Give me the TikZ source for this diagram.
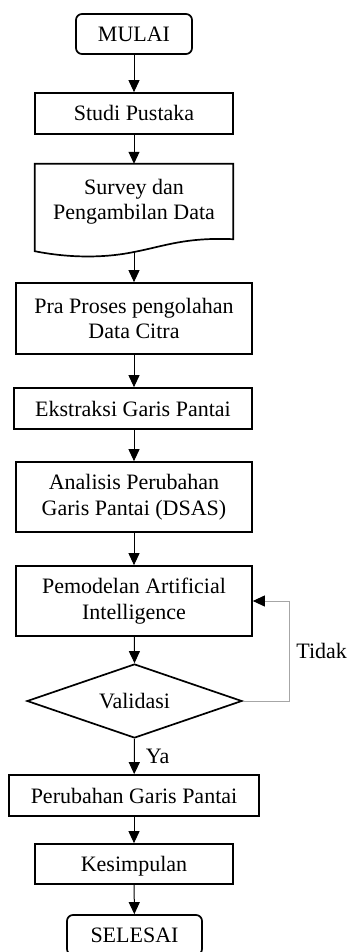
\documentclass[tikz,border=0pt]{standalone}
\usepackage{fontspec}
\setmainfont{Liberation Serif}
\usetikzlibrary{arrows.meta,shapes.geometric,calc}
\begin{document}
\begin{tikzpicture}[x=1pt,y=1pt]
                    \tikzstyle{every node}+=[inner sep=0pt, font=\fontsize{22}{25.5}\selectfont]
                    \tikzstyle{box}=[draw=black, line width=1.7pt, rectangle, align=center]
                    \tikzstyle{satu}=[box, text height=15pt, text depth=0pt]
                    \tikzstyle{ujung}=[satu, rounded corners=6pt]
                    \tikzstyle{panah}=[black, line width=1pt, -{Triangle[length=12pt,width=11pt]}]
                    \tikzstyle{balik}=[gray!70, line width=1pt, -{Triangle[length=12pt,width=11pt,color=black]}]
                    \useasboundingbox (0,0) rectangle (347,-952);
                    \node [ujung, minimum width=116pt, minimum height=40pt] (mulai) at (134,-34) {MULAI};
                    \node [satu, minimum width=198pt, minimum height=41pt] (studi) at (134,-113.5) {Studi Pustaka};
                    \node [align=center, minimum width=198pt, minimum height=75pt] (survey) at (134,-201.5) {Survey dan\\Pengambilan Data};
                    \coordinate (surveyout) at (134,-252);
                    \draw [black, line width=1.7pt] ($(survey.south west)+(0,-12)$) -- (survey.north west) -- (survey.north east) -- (survey.south east)
                        .. controls +(-48,2) and +(31,6) .. (surveyout)
                        .. controls +(-29,-6) and +(35,-7) .. ($(survey.south west)+(0,-12)$) -- cycle;
                    \node [box, minimum width=236pt, minimum height=71pt] (pra) at (134,-318.5) {Pra Proses pengolahan\\Data Citra};
                    \node [satu, minimum width=238pt, minimum height=41pt] (ekstraksi) at (133,-408.5) {Ekstraksi Garis Pantai};
                    \node [box, minimum width=236pt, minimum height=70pt] (analisis) at (134,-497) {Analisis Perubahan\\Garis Pantai (DSAS)};
                    \node [box, minimum width=236pt, minimum height=70pt] (model) at (134,-601) {Pemodelan Artificial\\Intelligence};
                    \node [draw=black, line width=1.7pt, diamond, aspect=2.9, minimum width=215pt, minimum height=74pt] (valid) at (134.5,-701) {Validasi};
                    \node [satu, minimum width=250pt, minimum height=41pt] (perubahan) at (134,-795.5) {Perubahan Garis Pantai};
                    \node [satu, minimum width=198pt, minimum height=40pt] (simpul) at (134,-864) {Kesimpulan};
                    \node [ujung, minimum width=135pt, minimum height=40pt] (selesai) at (134.5,-935) {SELESAI};
                    \draw [panah] (mulai) -- (studi);
                    \draw [panah] (studi) -- (survey.north);
                    \draw [panah] (surveyout) -- (pra);
                    \draw [panah] (pra) -- (ekstraksi.north -| pra);
                    \draw [panah] (ekstraksi.south -| pra) -- (analisis);
                    \draw [panah] (analisis) -- (model);
                    \draw [panah] (model) -- (valid.north);
                    \draw [panah] (valid.south) -- (perubahan) node [midway, right=11pt] {Ya};
                    \draw [balik] (valid.east) -- ++(47,0) |- (model.east) node [pos=0.25, right=6pt, text=black] {Tidak};
                    \draw [panah] (perubahan) -- (simpul);
                    \draw [panah] (simpul) -- (selesai);
                \end{tikzpicture}
\end{document}
